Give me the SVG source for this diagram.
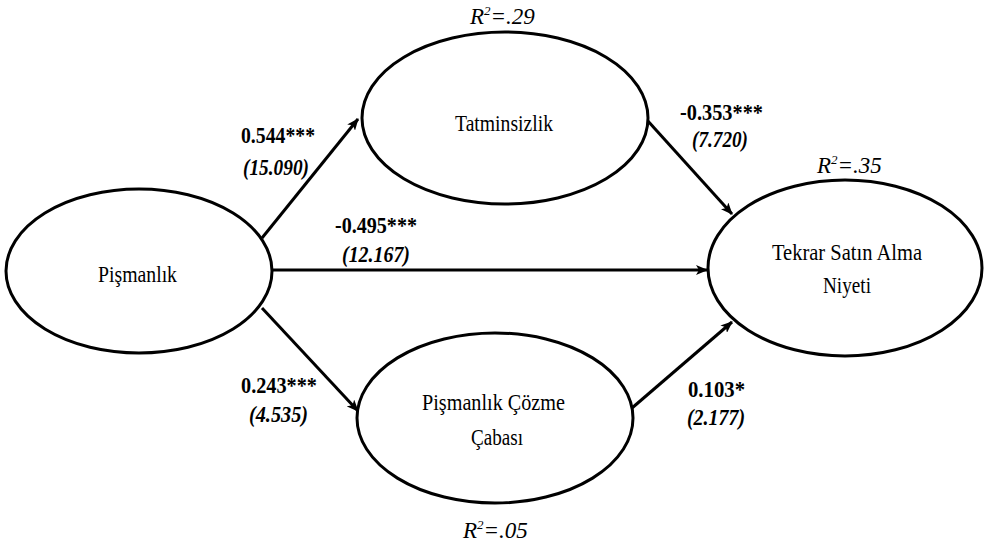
<svg xmlns="http://www.w3.org/2000/svg" width="987" height="547" viewBox="0 0 987 547">
<style>
.node{fill:#fff;stroke:#000;stroke-width:3}
.conn{stroke:#000;stroke-width:3;fill:none}
</style>
<defs>
<marker id="arr" viewBox="0 0 12 10" refX="11" refY="5" markerWidth="12" markerHeight="10" markerUnits="userSpaceOnUse" orient="auto">
<path d="M0,0 L12,5 L0,10 L3,5 Z" fill="#000"/>
</marker>
</defs>
<rect width="987" height="547" fill="#fff"/>
<g id="connectors">
<line class="conn" x1="262" y1="238" x2="358" y2="119" marker-end="url(#arr)"/>
<line class="conn" x1="272" y1="270" x2="707" y2="270" marker-end="url(#arr)"/>
<line class="conn" x1="262" y1="308" x2="358" y2="411" marker-end="url(#arr)"/>
<line class="conn" x1="647" y1="120" x2="732" y2="214" marker-end="url(#arr)"/>
<line class="conn" x1="632" y1="408" x2="732" y2="322" marker-end="url(#arr)"/>
</g>
<g id="labels" font-family="Times New Roman, Liberation Serif, serif" font-size="24" font-weight="bold">
<text x="241" y="143" textLength="74" lengthAdjust="spacingAndGlyphs">0.544***</text>
<text x="243" y="175" font-style="italic" textLength="66" lengthAdjust="spacingAndGlyphs">(15.090)</text>
<text x="335" y="233" textLength="82" lengthAdjust="spacingAndGlyphs">-0.495***</text>
<text x="342" y="262" font-style="italic" textLength="68" lengthAdjust="spacingAndGlyphs">(12.167)</text>
<text x="680" y="120" textLength="83" lengthAdjust="spacingAndGlyphs">-0.353***</text>
<text x="692" y="147" font-style="italic" textLength="56" lengthAdjust="spacingAndGlyphs">(7.720)</text>
<text x="241" y="393" textLength="76" lengthAdjust="spacingAndGlyphs">0.243***</text>
<text x="249" y="422" font-style="italic" textLength="59" lengthAdjust="spacingAndGlyphs">(4.535)</text>
<text x="688" y="397" textLength="57" lengthAdjust="spacingAndGlyphs">0.103*</text>
<text x="687" y="425" font-style="italic" textLength="58" lengthAdjust="spacingAndGlyphs">(2.177)</text>
</g>
<g id="pismanlik" font-family="Times New Roman, Liberation Serif, serif" font-size="24">
<ellipse class="node" cx="139" cy="271" rx="133" ry="82"/>
<text x="98" y="282" textLength="79" lengthAdjust="spacingAndGlyphs">Pişmanlık</text>
</g>
<g id="tatminsizlik" font-family="Times New Roman, Liberation Serif, serif" font-size="24">
<ellipse class="node" cx="505" cy="118" rx="143" ry="86"/>
<text x="455" y="131" textLength="98" lengthAdjust="spacingAndGlyphs">Tatminsizlik</text>
<text x="470" y="24" font-style="italic" font-size="23">R<tspan dy="-9" font-size="13">2</tspan><tspan dy="9">=.29</tspan></text>
</g>
<g id="tekrar" font-family="Times New Roman, Liberation Serif, serif" font-size="24">
<ellipse class="node" cx="845" cy="268" rx="137" ry="88"/>
<text x="772" y="260" textLength="150" lengthAdjust="spacingAndGlyphs">Tekrar Satın Alma</text>
<text x="823" y="293" textLength="48" lengthAdjust="spacingAndGlyphs">Niyeti</text>
<text x="817" y="173" font-style="italic" font-size="23">R<tspan dy="-9" font-size="13">2</tspan><tspan dy="9">=.35</tspan></text>
</g>
<g id="cozme" font-family="Times New Roman, Liberation Serif, serif" font-size="24">
<ellipse class="node" cx="495" cy="418" rx="138" ry="85"/>
<text x="422" y="410" textLength="143" lengthAdjust="spacingAndGlyphs">Pişmanlık Çözme</text>
<text x="471" y="445" textLength="52" lengthAdjust="spacingAndGlyphs">Çabası</text>
<text x="463" y="538" font-style="italic" font-size="23">R<tspan dy="-9" font-size="13">2</tspan><tspan dy="9">=.05</tspan></text>
</g>
</svg>
